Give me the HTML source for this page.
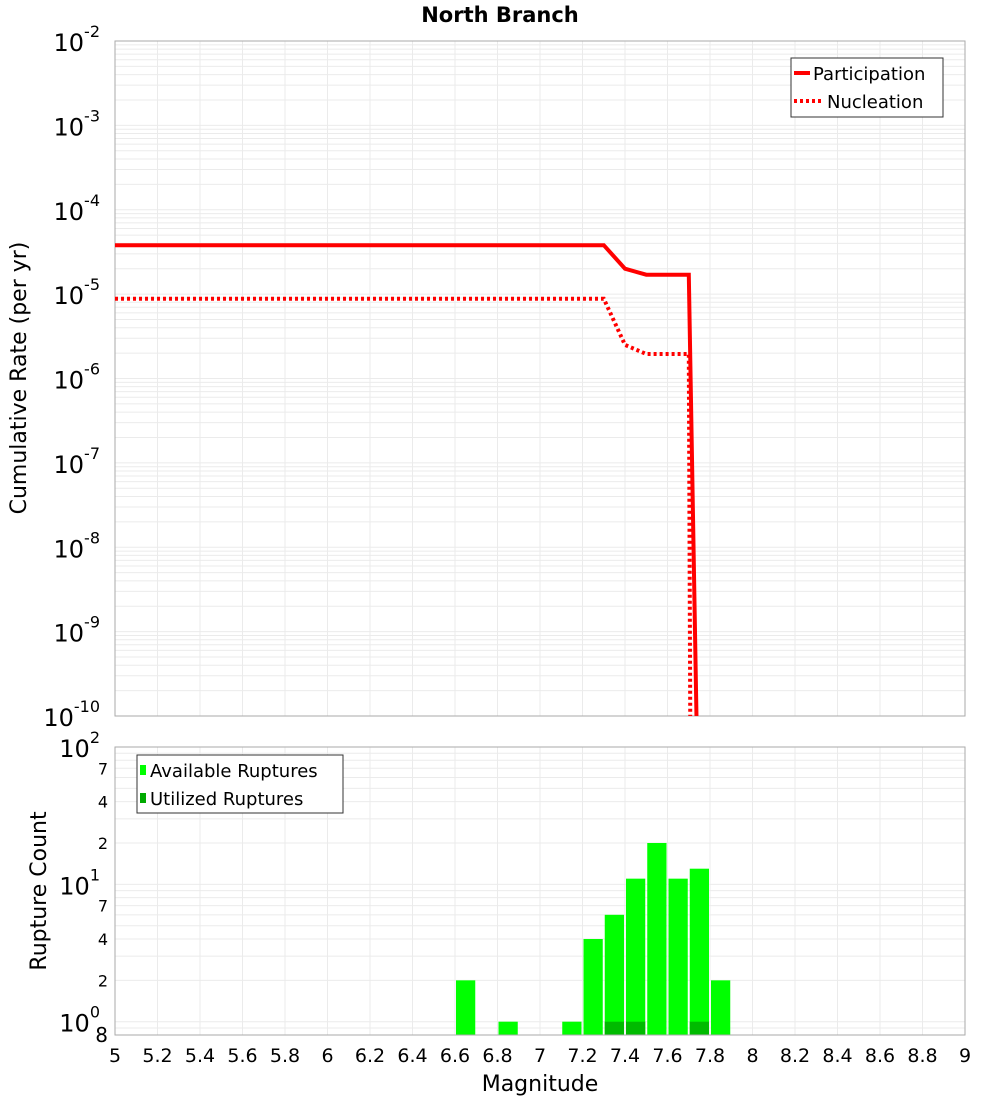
<!DOCTYPE html>
<html><head><meta charset="utf-8"><title>North Branch</title>
<style>
html,body{margin:0;padding:0;background:#fff;}
svg{display:block;font-family:"DejaVu Sans","Liberation Sans",sans-serif;}
</style></head>
<body>
<svg id="chart" width="1000" height="1100" viewBox="0 0 1000 1100" xmlns="http://www.w3.org/2000/svg">
<text x="500" y="22" text-anchor="middle" font-size="21" font-weight="bold">North Branch</text>
<g id="topPlot"></g>
<g id="botPlot"></g>
</svg>
<script>
// ---- data ----
const partMags = [5.0, 7.3, 7.4, 7.5, 7.7, 7.75];
const partRates = [3.8e-5, 3.8e-5, 2.0e-5, 1.7e-5, 1.7e-5, 1e-12];
const nuclMags = [5.0, 7.3, 7.4, 7.5, 7.7, 7.71];
const nuclRates = [8.8e-6, 8.8e-6, 2.5e-6, 1.95e-6, 1.95e-6, 1e-12];
const binMags = [6.65, 6.85, 7.15, 7.25, 7.35, 7.45, 7.55, 7.65, 7.75, 7.85];
const availCounts = [2, 1, 1, 4, 6, 11, 20, 11, 13, 2];
const utilCounts = [0, 0, 0, 0, 1, 1, 0, 0, 1, 0];
const xTicks = [5,5.2,5.4,5.6,5.8,6,6.2,6.4,6.6,6.8,7,7.2,7.4,7.6,7.8,8,8.2,8.4,8.6,8.8,9];
const topExps = [-2,-3,-4,-5,-6,-7,-8,-9,-10];
const botMinor = [70,40,20,7,4,2];

const NS="http://www.w3.org/2000/svg";
function mk(parent,tag,attrs,name,inter){const e=document.createElementNS(NS,tag);for(const k in attrs)e.setAttribute(k,attrs[k]);


parent.appendChild(e);return e;}

const X0=115,X1=965;
const xs=m=>X0+(m-5)/(9-5)*(X1-X0);
const T0=41,T1=716;
const ysT=v=>T0+(-2-Math.log10(v))/8*(T1-T0);
const B0=747,B1=1035,BMIN=0.8,BMAX=100;
const ysB=v=>B0+(Math.log10(BMAX)-Math.log10(v))/(Math.log10(BMAX)-Math.log10(BMIN))*(B1-B0);

const gTop=document.getElementById('topPlot'), gBot=document.getElementById('botPlot');
const grid="#ebebeb";
for(let e=-10;e<-2;e++){for(let k=1;k<10;k++){const y=ysT(k*Math.pow(10,e));mk(gTop,'line',{x1:X0,x2:X1,y1:y,y2:y,stroke:grid,'stroke-width':1},'top-grid-h',false);}}
xTicks.forEach(m=>{const x=xs(m);mk(gTop,'line',{x1:x,x2:x,y1:T0,y2:T1,stroke:grid,'stroke-width':1},'top-grid-v',false);
mk(gBot,'line',{x1:x,x2:x,y1:B0,y2:B1,stroke:grid,'stroke-width':1},'bottom-grid-v',false);});
mk(gTop,'rect',{x:X0,y:T0,width:X1-X0,height:T1-T0,fill:'none',stroke:'#aaa','stroke-width':1},'top-plot-frame',false);
topExps.forEach(e=>{const y=ysT(Math.pow(10,e));const t=mk(gTop,'text',{x:100,y:y+10,'text-anchor':'end','font-size':24},'y-tick-label',false);
t.textContent='10';const s=mk(t,'tspan',{dy:-14,'font-size':16},'y-tick-exponent',false);s.textContent=String(e);});
function path(ms,vs,ysf){return ms.map((m,i)=>(i?'L':'M')+xs(m).toFixed(1)+','+ysf(vs[i]).toFixed(1)).join(' ');}
const cp=mk(gTop,'clipPath',{id:'clipT'},'top-clip',false);mk(cp,'rect',{x:X0,y:T0,width:X1-X0,height:T1-T0},'top-clip-rect',false);
mk(gTop,'path',{d:path(partMags,partRates,ysT),fill:'none',stroke:'#ff0000','stroke-width':4,'clip-path':'url(#clipT)'},'participation-line',false);
mk(gTop,'path',{d:path(nuclMags,nuclRates,ysT),fill:'none',stroke:'#ff0000','stroke-width':4,'stroke-dasharray':'3,3','clip-path':'url(#clipT)'},'nucleation-line',false);
const lg=mk(gTop,'g',{},'top-legend',false);
mk(lg,'rect',{x:791,y:58,width:152,height:59,fill:'#fff',stroke:'#333','stroke-width':1},'legend-box',false);
mk(lg,'line',{x1:794,x2:810,y1:73,y2:73,stroke:'#f00','stroke-width':4},'legend-participation-swatch',false);
let t=mk(lg,'text',{x:813,y:80,'font-size':18},'legend-participation-label',false);t.textContent='Participation';
mk(lg,'line',{x1:794,x2:822,y1:101,y2:101,stroke:'#f00','stroke-width':4,'stroke-dasharray':'3,3'},'legend-nucleation-swatch',false);
t=mk(lg,'text',{x:827,y:108,'font-size':18},'legend-nucleation-label',false);t.textContent='Nucleation';
t=mk(gTop,'text',{x:26,y:378,'font-size':22,'text-anchor':'middle',transform:'rotate(-90 26 378)'},'y-axis-title-top',false);t.textContent='Cumulative Rate (per yr)';

[0.8,0.9,1,2,3,4,5,6,7,8,9,10,20,30,40,50,60,70,80,90,100].forEach(v=>{const y=ysB(v);mk(gBot,'line',{x1:X0,x2:X1,y1:y,y2:y,stroke:grid,'stroke-width':1},'bottom-grid-h',false);});
const bw=(xs(0.1)-xs(0))-2;
binMags.forEach((m,i)=>{const x=xs(m)-bw/2;const y=ysB(availCounts[i]);
mk(gBot,'rect',{x:x,y:y,width:bw,height:B1-y,fill:'#00ff00'},'available-bar',false);
if(utilCounts[i]>0){const yu=ysB(utilCounts[i]);mk(gBot,'rect',{x:x,y:yu,width:bw,height:B1-yu,fill:'#00bb00'},'utilized-bar',false);}});
mk(gBot,'rect',{x:X0,y:B0,width:X1-X0,height:B1-B0,fill:'none',stroke:'#aaa','stroke-width':1},'bottom-plot-frame',false);
[2,1,0].forEach(e=>{const y=ysB(Math.pow(10,e));const tt=mk(gBot,'text',{x:100,y:y+10,'text-anchor':'end','font-size':24},'y-tick-label',false);
tt.textContent='10';const s=mk(tt,'tspan',{dy:-14,'font-size':16},'y-tick-exponent',false);s.textContent=String(e);});
botMinor.forEach(v=>{const tt=mk(gBot,'text',{x:108,y:ysB(v)+6,'text-anchor':'end','font-size':16},'y-minor-tick-label',false);tt.textContent=String(v>=10?v/10:v);});
t=mk(gBot,'text',{x:108,y:1042,'text-anchor':'end','font-size':20},'y-tick-label-min',false);t.textContent='8';
xTicks.forEach(m=>{const tt=mk(gBot,'text',{x:xs(m),y:1062,'text-anchor':'middle','font-size':19},'x-tick-label',false);tt.textContent=String(m);});
t=mk(gBot,'text',{x:540,y:1091,'text-anchor':'middle','font-size':22},'x-axis-title',false);t.textContent='Magnitude';
t=mk(gBot,'text',{x:46,y:891,'font-size':22,'text-anchor':'middle',transform:'rotate(-90 46 891)'},'y-axis-title-bottom',false);t.textContent='Rupture Count';
const lb=mk(gBot,'g',{},'bottom-legend',false);
mk(lb,'rect',{x:137,y:755,width:206,height:58,fill:'#fff',stroke:'#333','stroke-width':1},'legend-box',false);
mk(lb,'rect',{x:140,y:765,width:6,height:10,fill:'#00ff00'},'legend-available-swatch',false);
t=mk(lb,'text',{x:150,y:777,'font-size':18},'legend-available-label',false);t.textContent='Available Ruptures';
mk(lb,'rect',{x:140,y:793,width:6,height:10,fill:'#00aa00'},'legend-utilized-swatch',false);
t=mk(lb,'text',{x:150,y:805,'font-size':18},'legend-utilized-label',false);t.textContent='Utilized Ruptures';
</script>
</body></html>
